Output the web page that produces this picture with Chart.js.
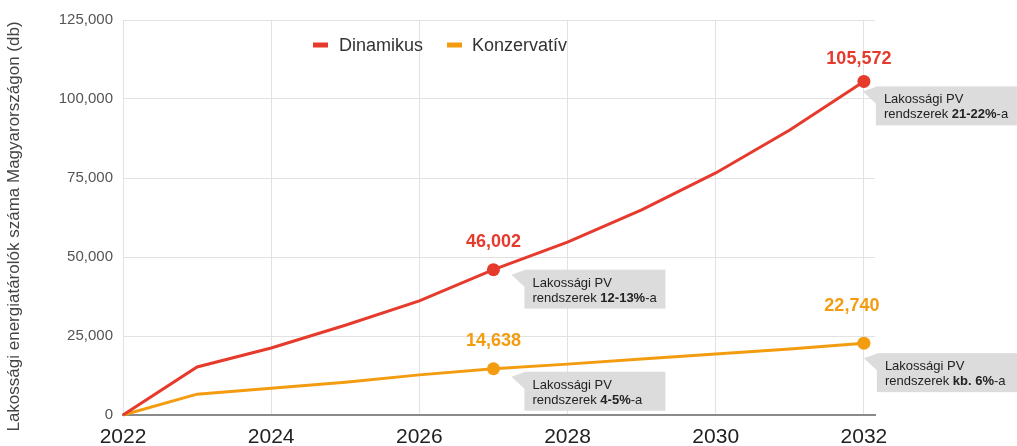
<!DOCTYPE html>
<html>
<head>
<meta charset="utf-8">
<script src="https://cdn.jsdelivr.net/npm/chart.js@4.4.1/dist/chart.umd.min.js"></script>
<style>
  html, body { margin: 0; padding: 0; background: #ffffff; }
  #wrap { width: 1017px; height: 446px; position: relative; }
</style>
</head>
<body>
<div id="wrap"><canvas id="c" width="1017" height="446"></canvas></div>
<script>
// ---- data ----
const years = [2022, 2023, 2024, 2025, 2026, 2027, 2028, 2029, 2030, 2031, 2032];
const dinamikus = [0, 15200, 21200, 28400, 36100, 46002, 54700, 64900, 76600, 90200, 105572];
const konzervativ = [0, 6600, 8500, 10400, 12700, 14638, 16100, 17700, 19300, 20900, 22740];
const seriesNames = ['Dinamikus', 'Konzervatív'];
const xTickValues = [2022, 2024, 2026, 2028, 2030, 2032];
const yTickStep = 25000;
const yMax = 125000;
const highlightYears = [2027, 2032];
const boxLine1 = 'Lakossági PV';
const boxLine2Prefix = 'rendszerek ';
const boxBoldParts = [['12-13%', '21-22%'], ['4-5%', 'kb. 6%']];
const boxLine2Suffix = '-a';
const yTitle = 'Lakossági energiatárolók száma Magyarországon (db)';

// ---- styles ----
const RED = '#e63a2c';
const ORANGE = '#f39c10';
const colors = [RED, ORANGE];
const FONT = "'Liberation Sans', Arial, Helvetica, sans-serif";

// per annotation layout (series index, highlight index) -> offsets
const annotLayout = [
  [ {lx: 0, ly: -23, bx: 31, by: 0}, {lx: -5, ly: -17, bx: 12, by: 5} ],
  [ {lx: 0, ly: -23, bx: 31, by: 3}, {lx: -12, ly: -32, bx: 13, by: 10} ]
];

const seriesData = [dinamikus, konzervativ];
const datasets = seriesData.map((arr, si) => ({
  label: seriesNames[si],
  data: years.map((yr, i) => ({x: yr, y: arr[i]})),
  borderColor: colors[si],
  backgroundColor: colors[si],
  borderWidth: 3,
  tension: 0,
  pointRadius: ctx => highlightYears.includes(years[ctx.dataIndex]) ? 6.5 : 0,
  pointHoverRadius: ctx => highlightYears.includes(years[ctx.dataIndex]) ? 6.5 : 0,
  pointBorderWidth: 0,
  pointBackgroundColor: colors[si],
  clip: false
}));

const fmt = v => Math.round(v).toLocaleString('en-US');

const annotPlugin = {
  id: 'annot',
  afterDatasetsDraw(chart) {
    const ctx = chart.ctx;
    const area = chart.chartArea;
    // y axis title
    ctx.save();
    ctx.translate(14, (area.top + area.bottom) / 2 + 9);
    ctx.rotate(-Math.PI / 2);
    ctx.font = '17px ' + FONT;
    ctx.fillStyle = '#444444';
    ctx.textAlign = 'center';
    ctx.textBaseline = 'middle';
    ctx.fillText(yTitle, 0, 0);
    ctx.restore();

    // legend (drawn inside chart area)
    ctx.save();
    const legendItems = [{x: 313, tx: 339}, {x: 447, tx: 472}];
    const ly = 45;
    seriesNames.forEach((name, si) => {
      ctx.fillStyle = colors[si];
      ctx.fillRect(legendItems[si].x, ly - 2.5, 15, 5);
      ctx.fillStyle = '#333333';
      ctx.font = '18px ' + FONT;
      ctx.textBaseline = 'middle';
      ctx.textAlign = 'left';
      ctx.fillText(name, legendItems[si].tx, ly + 1);
    });
    ctx.restore();

    chart.data.datasets.forEach((ds, si) => {
      const meta = chart.getDatasetMeta(si);
      highlightYears.forEach((yr, hi) => {
        const idx = years.indexOf(yr);
        const pt = meta.data[idx];
        const L = annotLayout[si][hi];
        const px = pt.x, py = pt.y;
        // value label
        ctx.save();
        ctx.font = 'bold 18px ' + FONT;
        ctx.fillStyle = colors[si];
        ctx.textAlign = 'center';
        ctx.textBaseline = 'alphabetic';
        ctx.fillText(fmt(seriesData[si][idx]), px + L.lx, py + L.ly);
        // callout box
        const bx = px + L.bx, by = py + L.by, bw = 141, bh = 39;
        ctx.fillStyle = '#dcdcdc';
        ctx.beginPath();
        ctx.moveTo(bx - 13, by + 5);
        ctx.lineTo(bx + 1, by);
        ctx.lineTo(bx + 1, by + 18);
        ctx.closePath();
        ctx.fill();
        ctx.fillRect(bx, by, bw, bh);
        ctx.fillStyle = '#222222';
        ctx.textAlign = 'left';
        ctx.font = '13px ' + FONT;
        ctx.fillText(boxLine1, bx + 8, by + 17);
        let tx = bx + 8;
        const ty = by + 32;
        ctx.fillText(boxLine2Prefix, tx, ty);
        tx += ctx.measureText(boxLine2Prefix).width;
        ctx.font = 'bold 13px ' + FONT;
        const bold = boxBoldParts[si][hi];
        ctx.fillText(bold, tx, ty);
        tx += ctx.measureText(bold).width;
        ctx.font = '13px ' + FONT;
        ctx.fillText(boxLine2Suffix, tx, ty);
        ctx.restore();
      });
    });
  }
};

new Chart(document.getElementById('c'), {
  type: 'line',
  data: { datasets },
  options: {
    responsive: false,
    animation: false,
    layout: { padding: { top: 20, right: 142, left: 0, bottom: 0 } },
    plugins: {
      legend: { display: false },
      tooltip: { enabled: false }
    },
    scales: {
      x: {
        type: 'linear',
        min: 2022,
        max: 2032.15,
        afterBuildTicks: s => { s.ticks = xTickValues.map(v => ({value: v})); },
        afterFit: s => { s.height = 31; },
        grid: { color: '#e2e2e2', lineWidth: 1, drawTicks: false },
        border: { display: true, color: '#8a8a8a', width: 2 },
        ticks: {
          padding: 10,
          color: '#222222',
          font: { family: FONT, size: 21 },
          maxRotation: 0,
          callback: v => String(v)
        }
      },
      y: {
        min: 0,
        max: yMax,
        afterFit: s => { s.width = 123; },
        grid: { color: '#e2e2e2', lineWidth: 1, drawTicks: false },
        border: { display: false },
        ticks: {
          stepSize: yTickStep,
          padding: 10,
          color: '#555555',
          font: { family: FONT, size: 15 },
          callback: v => fmt(v)
        },
        title: { display: false }
      }
    }
  },
  plugins: [annotPlugin]
});
</script>
</body>
</html>
